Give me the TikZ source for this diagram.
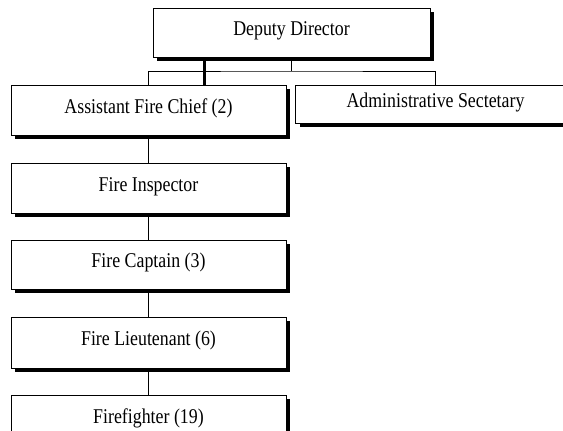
\documentclass[tikz,border=0pt]{standalone}
\usepackage{fontspec}
\setmainfont[FakeStretch=0.85]{Liberation Serif}
\usetikzlibrary{shadows}

\tikzset{
  post/.style={draw,thin,fill=white,inner sep=0pt,
    font=\fontsize{21}{24}\selectfont,text height=14pt,text depth=8pt,
    drop shadow={shadow xshift=4pt,shadow yshift=-4pt,opacity=1,fill=black}}
}

\begin{document}
\begin{tikzpicture}[x=1pt,y=-1pt]

      \useasboundingbox (0,0) rectangle (563,431);
      \clip (0,0) rectangle (563,431);

      \begin{scope}[every node/.style={post}]
        \node[minimum width=277pt,minimum height=49pt] (1) at (291.5,32.5) {Deputy Director};
        \node[minimum width=275pt,minimum height=50pt] (2) at (148.5,110) {Assistant Fire Chief (2)};
        \node[minimum width=280pt,minimum height=38pt] (3) at (435.5,104) {Administrative Sectetary};
        \node[minimum width=275pt,minimum height=50pt] (4) at (148.5,188) {Fire Inspector};
        \node[minimum width=275pt,minimum height=49pt] (5) at (148.5,264.5) {Fire Captain (3)};
        \node[minimum width=275pt,minimum height=51pt] (6) at (148.5,342.5) {Fire Lieutenant (6)};
        \node[minimum width=275pt,minimum height=50pt] (7) at (148.5,420) {Firefighter (19)};
      \end{scope}

      \coordinate (bus) at (291.5,71);
      \coordinate (lead) at (204,71);

      \begin{scope}[every path/.style={draw,thin}]
        \path (1) -- (bus);
        \path (2.north) |- (bus) -| (3.north);
        \path (2) -- (4);
        \path (4) -- (5);
        \path (5) -- (6);
        \path (6) -- (7);
      \end{scope}
      \draw[line width=3pt] (1.south -| lead) -- (2.north -| lead);

    \end{tikzpicture}
\end{document}
